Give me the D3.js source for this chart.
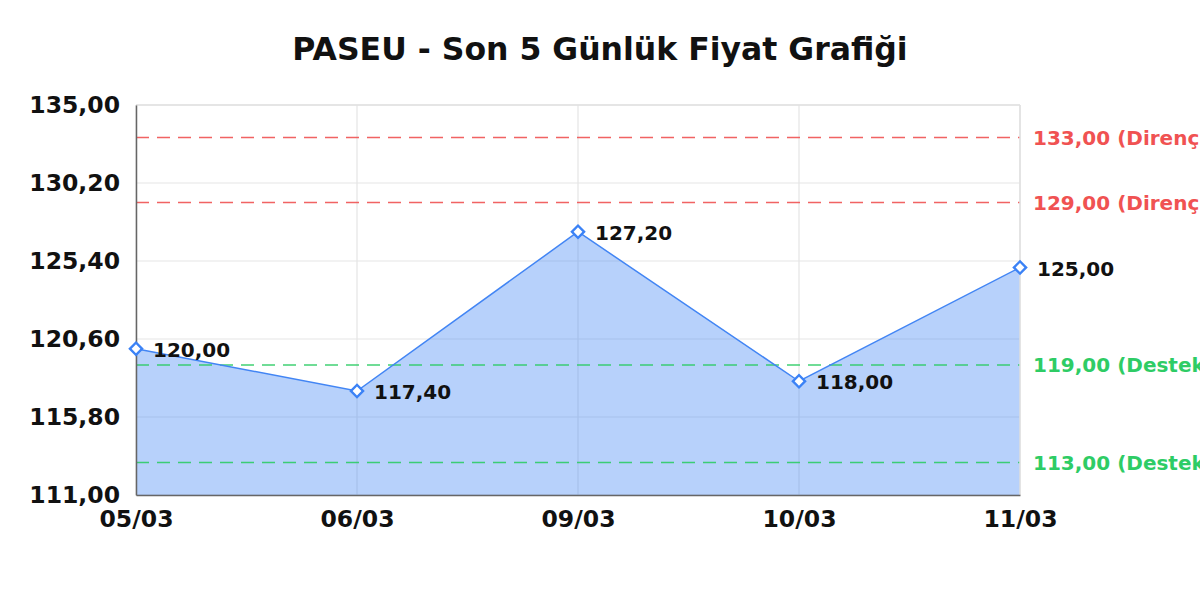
<!DOCTYPE html>
<html>
<head>
<meta charset="utf-8">
<script src="https://cdn.jsdelivr.net/npm/d3@7"></script>
<style>
  html, body { margin: 0; padding: 0; background: #fff; }
  svg { display: block; font-family: "DejaVu Sans", sans-serif; }
</style>
</head>
<body>
<div id="chart"></div>
<script>
var TITLE = 'PASEU - Son 5 Günlük Fiyat Grafiği';

var dates = ['05/03', '06/03', '09/03', '10/03', '11/03'];
var prices = [120.00, 117.40, 127.20, 118.00, 125.00];

var yTicks = [111.00, 115.80, 120.60, 125.40, 130.20, 135.00];

var resistance = [133.00, 129.00];
var support = [119.00, 113.00];

var WIDTH = 1200, HEIGHT = 600;
var margin = { top: 105, left: 136, bottom: 105, right: 180 };
var W = WIDTH - margin.left - margin.right;
var H = HEIGHT - margin.top - margin.bottom;

function fmt(v) {
    return v.toFixed(2).replace('.', ',');
}

var sx = d3.scalePoint()
    .domain(dates)
    .range([0, W])
    .padding(0);
var sy = d3.scaleLinear()
    .domain([d3.min(yTicks), d3.max(yTicks)])
    .range([H, 0]);

var svg = d3.select('#chart').append('svg')
    .attr('width', WIDTH)
    .attr('height', HEIGHT);

svg.append('text')
    .attr('x', WIDTH / 2)
    .attr('y', 60)
    .attr('text-anchor', 'middle')
    .attr('font-size', 31.5)
    .attr('font-weight', 'bold')
    .attr('fill', '#111')
    .text(TITLE);

var g = svg.append('g')
    .attr('transform', 'translate(' + margin.left + ',' + margin.top + ')');

// grid
g.append('g')
    .selectAll('line')
    .data(yTicks)
    .enter().append('line')
    .attr('x1', 0).attr('x2', W)
    .attr('y1', function(d) { return sy(d); })
    .attr('y2', function(d) { return sy(d); })
    .attr('stroke', '#e5e5e5')
    .attr('stroke-width', 1.2);
g.append('g')
    .selectAll('line')
    .data(dates)
    .enter().append('line')
    .attr('x1', function(d) { return sx(d); })
    .attr('x2', function(d) { return sx(d); })
    .attr('y1', 0).attr('y2', H)
    .attr('stroke', '#e5e5e5')
    .attr('stroke-width', 1.2);

// area + line
var area = d3.area()
    .x(function(d, i) { return sx(dates[i]); })
    .y0(H)
    .y1(function(d) { return sy(d); });
var line = d3.line()
    .x(function(d, i) { return sx(dates[i]); })
    .y(function(d) { return sy(d); });

g.append('path')
    .datum(prices)
    .attr('d', area)
    .attr('fill', 'rgba(66,133,244,0.38)');

// reference lines
function refLines(vals, color, label) {
    var r = g.append('g');
    r.selectAll('line')
        .data(vals)
        .enter().append('line')
        .attr('x1', 0).attr('x2', W)
        .attr('y1', function(d) { return sy(d); })
        .attr('y2', function(d) { return sy(d); })
        .attr('stroke', color)
        .attr('stroke-opacity', 0.9)
        .attr('stroke-width', 1.5)
        .attr('stroke-dasharray', '13,8');
    r.selectAll('text')
        .data(vals)
        .enter().append('text')
        .attr('x', W + 13)
        .attr('y', function(d) { return sy(d); })
        .attr('dy', '0.35em')
        .attr('font-size', 20)
        .attr('font-weight', 'bold')
        .attr('fill', color)
        .text(function(d) { return fmt(d) + ' (' + label + ')'; });
}
refLines(resistance, '#f05252', 'Direnç');
refLines(support, '#2ecc65', 'Destek');

g.append('path')
    .datum(prices)
    .attr('d', line)
    .attr('fill', 'none')
    .attr('stroke', '#4285f4')
    .attr('stroke-width', 1.5);

// frame
g.append('line').attr('x1', W).attr('x2', W).attr('y1', 0).attr('y2', H)
    .attr('stroke', '#e0e0e0').attr('stroke-width', 1.5);
g.append('line').attr('x1', 0).attr('x2', W).attr('y1', 0).attr('y2', 0)
    .attr('stroke', '#e0e0e0').attr('stroke-width', 1.5);

// axes
var ax = d3.axisBottom(sx).tickSize(0).tickPadding(15);
var ay = d3.axisLeft(sy).tickValues(yTicks).tickSize(0).tickPadding(16)
    .tickFormat(fmt);

var gx = g.append('g')
    .attr('transform', 'translate(0,' + H + ')')
    .call(ax);
var gy = g.append('g').call(ay);

[gx, gy].forEach(function(a) {
    a.select('.domain').attr('stroke', '#666').attr('stroke-width', 1.5);
    a.selectAll('text')
        .attr('font-family', '"DejaVu Sans", sans-serif')
        .attr('font-size', 23.5)
        .attr('font-weight', 'bold')
        .attr('fill', '#111');
});

// markers
g.append('g')
    .selectAll('path')
    .data(prices)
    .enter().append('path')
    .attr('transform', function(d, i) {
        return 'translate(' + sx(dates[i]) + ',' + sy(d) + ') rotate(45)';
    })
    .attr('d', 'M-4.3,-4.3H4.3V4.3H-4.3Z')
    .attr('fill', '#fff')
    .attr('stroke', '#3b82f6')
    .attr('stroke-width', 2.4);

// point labels
g.append('g')
    .selectAll('text')
    .data(prices)
    .enter().append('text')
    .attr('x', function(d, i) { return sx(dates[i]) + 17; })
    .attr('y', function(d) { return sy(d); })
    .attr('dy', '0.4em')
    .attr('font-size', 20)
    .attr('font-weight', 'bold')
    .attr('fill', '#111')
    .text(fmt);
</script>
</body>
</html>
